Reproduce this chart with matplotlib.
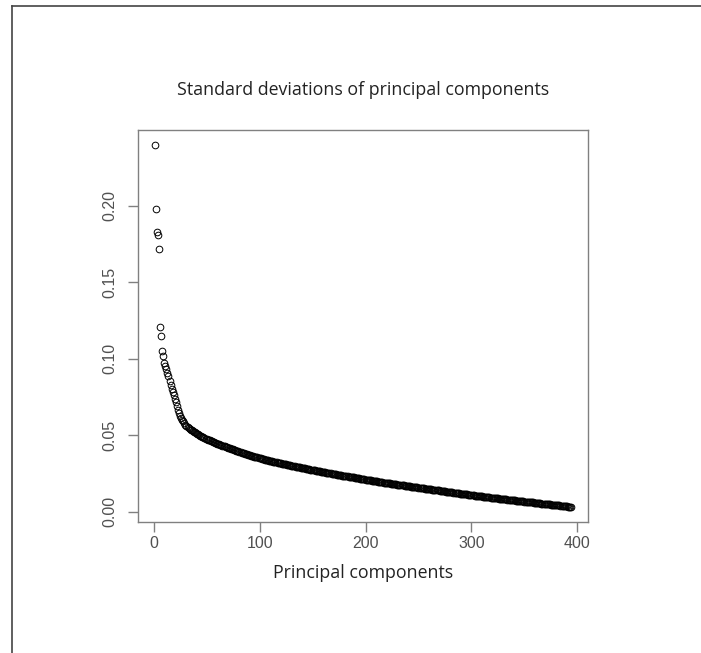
import matplotlib
matplotlib.use("Agg")
import matplotlib.pyplot as plt
from matplotlib.lines import Line2D

# --- standard deviations of the principal components ---
sdev = [
    0.2400, 0.1980, 0.1830, 0.1810, 0.1720, 0.1210, 0.1150, 0.1050, 0.1020, 0.0970,
    0.0950, 0.0930, 0.0910, 0.0885, 0.0855, 0.0830, 0.0805, 0.0780, 0.0760, 0.0740,
    0.0715, 0.0690, 0.0665, 0.0645, 0.0625, 0.0610, 0.0600, 0.0590, 0.0580, 0.0570,
    0.0563, 0.0556, 0.0549, 0.0543, 0.0537, 0.0532, 0.0527, 0.0523, 0.0519, 0.0515,
    0.0510, 0.0506, 0.0502, 0.0498, 0.0494, 0.0490, 0.0486, 0.0482, 0.0478, 0.0475,
    0.0472, 0.0469, 0.0466, 0.0463, 0.0460, 0.0457, 0.0454, 0.0451, 0.0448, 0.0445,
    0.0442, 0.0440, 0.0437, 0.0435, 0.0432, 0.0429, 0.0427, 0.0424, 0.0422, 0.0419,
    0.0417, 0.0414, 0.0412, 0.0409, 0.0407, 0.0404, 0.0402, 0.0399, 0.0397, 0.0394,
    0.0392, 0.0390, 0.0387, 0.0385, 0.0383, 0.0380, 0.0378, 0.0376, 0.0374, 0.0371,
    0.0369, 0.0367, 0.0365, 0.0363, 0.0361, 0.0359, 0.0357, 0.0355, 0.0353, 0.0351,
    0.0349, 0.0347, 0.0345, 0.0343, 0.0341, 0.0340, 0.0338, 0.0336, 0.0334, 0.0333,
    0.0331, 0.0329, 0.0328, 0.0326, 0.0324, 0.0323, 0.0321, 0.0320, 0.0318, 0.0316,
    0.0315, 0.0313, 0.0312, 0.0310, 0.0309, 0.0307, 0.0306, 0.0304, 0.0303, 0.0301,
    0.0300, 0.0298, 0.0297, 0.0295, 0.0294, 0.0293, 0.0291, 0.0290, 0.0288, 0.0287,
    0.0285, 0.0284, 0.0283, 0.0281, 0.0280, 0.0279, 0.0277, 0.0276, 0.0275, 0.0273,
    0.0272, 0.0271, 0.0269, 0.0268, 0.0267, 0.0265, 0.0264, 0.0263, 0.0261, 0.0260,
    0.0259, 0.0257, 0.0256, 0.0255, 0.0254, 0.0252, 0.0251, 0.0250, 0.0248, 0.0247,
    0.0246, 0.0245, 0.0243, 0.0242, 0.0241, 0.0240, 0.0238, 0.0237, 0.0236, 0.0234,
    0.0233, 0.0232, 0.0231, 0.0230, 0.0228, 0.0227, 0.0226, 0.0225, 0.0224, 0.0222,
    0.0221, 0.0220, 0.0219, 0.0218, 0.0216, 0.0215, 0.0214, 0.0213, 0.0212, 0.0210,
    0.0209, 0.0208, 0.0207, 0.0206, 0.0205, 0.0204, 0.0202, 0.0201, 0.0200, 0.0199,
    0.0198, 0.0197, 0.0196, 0.0195, 0.0194, 0.0192, 0.0191, 0.0190, 0.0189, 0.0188,
    0.0187, 0.0186, 0.0185, 0.0184, 0.0183, 0.0182, 0.0181, 0.0180, 0.0179, 0.0178,
    0.0177, 0.0176, 0.0175, 0.0174, 0.0173, 0.0172, 0.0171, 0.0170, 0.0169, 0.0168,
    0.0167, 0.0166, 0.0165, 0.0164, 0.0163, 0.0162, 0.0161, 0.0160, 0.0159, 0.0158,
    0.0157, 0.0156, 0.0155, 0.0154, 0.0153, 0.0152, 0.0151, 0.0150, 0.0149, 0.0148,
    0.0147, 0.0146, 0.0145, 0.0144, 0.0143, 0.0142, 0.0141, 0.0140, 0.0139, 0.0138,
    0.0137, 0.0136, 0.0135, 0.0134, 0.0133, 0.0132, 0.0131, 0.0130, 0.0129, 0.0128,
    0.0127, 0.0126, 0.0125, 0.0124, 0.0123, 0.0122, 0.0121, 0.0120, 0.0119, 0.0118,
    0.0117, 0.0116, 0.0115, 0.0114, 0.0114, 0.0113, 0.0112, 0.0111, 0.0110, 0.0109,
    0.0108, 0.0107, 0.0106, 0.0105, 0.0104, 0.0103, 0.0102, 0.0102, 0.0101, 0.0100,
    0.0099, 0.0098, 0.0097, 0.0096, 0.0095, 0.0095, 0.0094, 0.0093, 0.0092, 0.0091,
    0.0090, 0.0089, 0.0088, 0.0088, 0.0087, 0.0086, 0.0085, 0.0084, 0.0083, 0.0083,
    0.0082, 0.0081, 0.0081, 0.0080, 0.0079, 0.0078, 0.0077, 0.0077, 0.0076, 0.0075,
    0.0074, 0.0073, 0.0073, 0.0072, 0.0071, 0.0070, 0.0069, 0.0069, 0.0068, 0.0067,
    0.0066, 0.0065, 0.0065, 0.0064, 0.0063, 0.0062, 0.0061, 0.0061, 0.0060, 0.0059,
    0.0058, 0.0057, 0.0057, 0.0056, 0.0055, 0.0054, 0.0053, 0.0053, 0.0052, 0.0051,
    0.0050, 0.0049, 0.0049, 0.0048, 0.0047, 0.0046, 0.0045, 0.0045, 0.0044, 0.0043,
    0.0042, 0.0041, 0.0041, 0.0040, 0.0039, 0.0038, 0.0037, 0.0037, 0.0036, 0.0035,
    0.0034, 0.0033, 0.0032, 0.0030,
]
components = list(range(1, len(sdev) + 1))

x_ticks = [0, 100, 200, 300, 400]
y_ticks = [0.00, 0.05, 0.10, 0.15, 0.20]
y_tick_labels = ["0.00", "0.05", "0.10", "0.15", "0.20"]

# tick numbers in an Arial-like face, title/label set separately below
plt.rcParams["font.family"] = ["Liberation Sans", "DejaVu Sans"]

# --- figure, roughly R's base plot look ---
fig = plt.figure(figsize=(7.01, 6.53), dpi=100)
ax = fig.add_axes([0.1969, 0.2011, 0.6415, 0.5998])

ax.plot(components, sdev, linestyle="none", marker="o", markersize=4.8,
        markerfacecolor="none", markeredgecolor="black", markeredgewidth=0.7)

ax.margins(x=0.04, y=0.04)
ax.set_xticks(x_ticks)
ax.set_yticks(y_ticks)
ax.set_yticklabels(y_tick_labels, rotation=90, va="center")

frame_col = "#808080"
for sp in ax.spines.values():
    sp.set_color(frame_col)
    sp.set_linewidth(1.0)
ax.tick_params(axis="both", color=frame_col, length=7, width=1.0,
               labelcolor="#505050", labelsize=11.5)
ax.tick_params(axis="x", pad=3)
ax.tick_params(axis="y", pad=8)

ax.set_title("Standard deviations of principal components",
             family="Open Sans", fontsize=12.8, color="#222222", pad=25)
ax.set_xlabel("Principal components", family="Open Sans", fontsize=12.8,
              color="#222222", labelpad=10)

# thin border along the top and left edge of the image
fig.add_artist(Line2D([12 / 701, 12 / 701], [0, 1 - 6 / 653],
                      transform=fig.transFigure, color="#444444", lw=1.2))
fig.add_artist(Line2D([12 / 701, 1], [1 - 6 / 653, 1 - 6 / 653],
                      transform=fig.transFigure, color="#444444", lw=1.2))

fig.savefig("out.png", dpi=100)
